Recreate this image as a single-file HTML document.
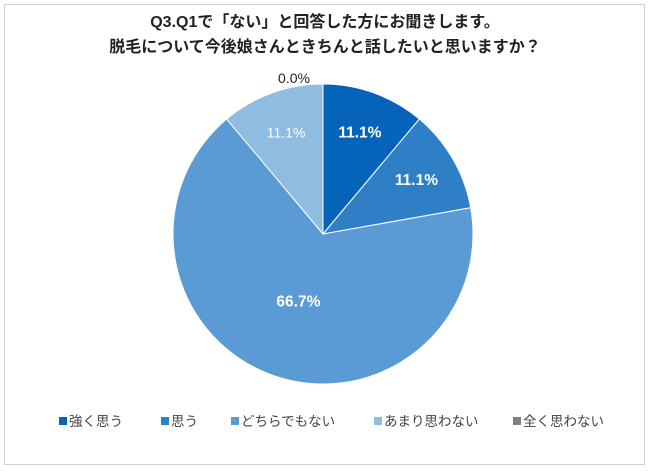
<!DOCTYPE html>
<html><head><meta charset="utf-8"><style>
body{margin:0;background:#fff;}
svg{display:block;font-family:"Liberation Sans","Noto Sans CJK JP",sans-serif;}
</style></head><body>
<svg width="650" height="472">
<rect x="4.5" y="4.5" width="640" height="460" fill="#fff" stroke="#d0d0d0"/>
<text x="325" y="27" text-anchor="middle" font-size="16" font-weight="bold" fill="#222">Q3.Q1で「ない」と回答した方にお聞きします。</text>
<text x="325" y="52" text-anchor="middle" font-size="16" font-weight="bold" fill="#222">脱毛について今後娘さんときちんと話したいと思いますか？</text>
<g id="slices"></g>
<g id="legend"></g>
</svg>
<script>
const categories=["強く思う","思う","どちらでもない","あまり思わない","全く思わない"];
const values=[11.1,11.1,66.7,11.1,0.0];
const labels=["11.1%","11.1%","66.7%","11.1%","0.0%"];
const colors=["#0563BA","#2E7FC6","#5B9BD5","#8FBDE2","#7F7F7F"];
const cx=323,cy=234,r=150,NS="http://www.w3.org/2000/svg";
const total=values.reduce((a,b)=>a+b,0);
const g=document.getElementById('slices');
function pt(a,rr){return[cx+rr*Math.sin(a),cy-rr*Math.cos(a)];}
let a0=0;
values.forEach((v,i)=>{
  const a1=a0+v/total*2*Math.PI;
  if(v>0){
    const p=document.createElementNS(NS,'path');
    const [x0,y0]=pt(a0,r),[x1,y1]=pt(a1,r);
    p.setAttribute('d',`M${cx},${cy}L${x0},${y0}A${r},${r} 0 ${a1-a0>Math.PI?1:0} 1 ${x1},${y1}Z`);
    p.setAttribute('fill',colors[i]);p.setAttribute('stroke','#fff');p.setAttribute('stroke-width','1');
    
    
    g.appendChild(p);
  }
  const m=(a0+a1)/2;
  const t=document.createElementNS(NS,'text');
  let x,y;
  if(v>0){[x,y]=pt(m,r*0.72);if(v>50)[x,y]=pt(m,r*0.48);}else{x=cx-29;y=cy-156;}
  t.setAttribute('x',x);t.setAttribute('y',y+5);t.setAttribute('text-anchor','middle');
  t.setAttribute('font-size',v>0&&i!==3?'15.5':'14');
  t.setAttribute('fill',v>0?'#fff':'#222');
  t.setAttribute('font-weight',(v>0&&i!==3)?'bold':'normal');
  t.textContent=labels[i];
  
  
  g.appendChild(t);
  a0=a1;
});
const lx=[59,161,231,374,513];
const lg=document.getElementById('legend');
categories.forEach((c,i)=>{
  const e=document.createElementNS(NS,'g');
  
  
  const s=document.createElementNS(NS,'rect');
  s.setAttribute('x',lx[i]);s.setAttribute('y',417);s.setAttribute('width',8);s.setAttribute('height',8);s.setAttribute('fill',colors[i]);
  const t=document.createElementNS(NS,'text');
  t.setAttribute('x',lx[i]+10);t.setAttribute('y',426);t.setAttribute('font-size','13.5');t.setAttribute('fill','#444');
  t.textContent=c;
  e.appendChild(s);e.appendChild(t);lg.appendChild(e);
});
</script>
</body></html>
